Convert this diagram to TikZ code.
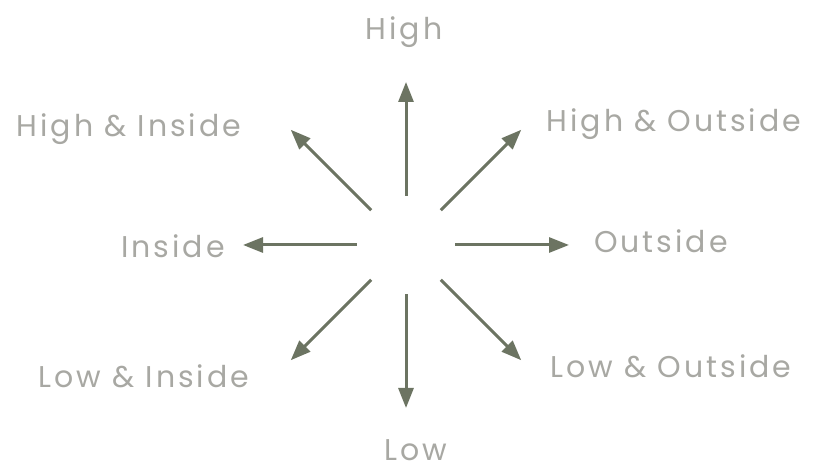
\documentclass[tikz,border=0pt]{standalone}
\usepackage{fontspec}
\setmainfont{Poppins}[LetterSpace=10]
\usetikzlibrary{arrows.meta, calc}
\definecolor{arrowgreen}{RGB}{108,116,98}
\definecolor{labelgray}{RGB}{168,168,163}

\begin{document}
\begin{tikzpicture}[x=1pt,y=1pt,
  dirarrow/.style={arrowgreen,line width=3pt,-{Triangle[length=20pt,width=15pt]}},
  dirlabel/.style={labelgray,font=\fontsize{30}{34}\selectfont,anchor=base,inner sep=0pt}]
  \useasboundingbox (0,0) rectangle (814,470);
  % centre of the star
  \node[circle,minimum size=98pt,inner sep=0pt] (ctr) at (406,225) {};
  % labels
  \node[dirlabel] (high)   at (404,430) {High};
  \node[dirlabel] (highin) at (129,333) {High \& Inside};
  \node[dirlabel] (highout) at (674,338) {High \& Outside};
  \node[dirlabel] (inside) at (173,212) {Inside};
  \node[dirlabel] (outside) at (661,217) {Outside};
  \node[dirlabel] (lowin)  at (144,82) {Low \& Inside};
  \node[dirlabel] (lowout) at (671,92) {Low \& Outside};
  \node[dirlabel] (low)    at (416,9) {Low};
  % arrows out of the centre
  \foreach \ang/\nm in {0/e,45/ne,90/n,135/nw,180/w,225/sw,270/s,315/se}{
    \coordinate (tip\nm) at ($(ctr)+(\ang:163)$);
    \draw[dirarrow] (ctr.\ang) -- (tip\nm);
  }
\end{tikzpicture}
\end{document}
